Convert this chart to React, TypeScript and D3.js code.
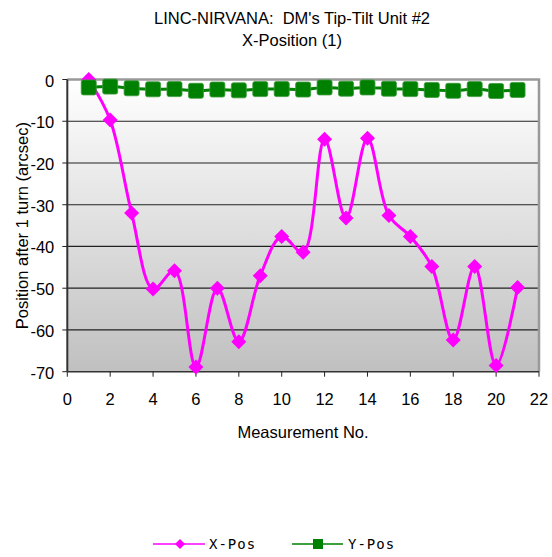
import React from "react";
import * as d3 from "d3";

const measurements = [1,2,3,4,5,6,7,8,9,10,11,12,13,14,15,16,17,18,19,20,21];
const xPos = [0,-9.7,-32,-50.2,-45.8,-68.9,-50,-62.8,-47,-37.6,-41.4,-14.3,-33.2,-14.1,-32.6,-37.6,-44.8,-62.4,-44.8,-68.5,-49.8];
const yPos = [-1.9,-1.7,-2.1,-2.35,-2.3,-2.7,-2.4,-2.6,-2.3,-2.3,-2.4,-1.9,-2.2,-1.9,-2.2,-2.3,-2.5,-2.7,-2.3,-2.75,-2.5];
const xTicks = [0,2,4,6,8,10,12,14,16,18,20,22];
const yTicks = [0,-10,-20,-30,-40,-50,-60,-70];
const titleLines = ["LINC-NIRVANA:  DM's Tip-Tilt Unit #2", "X-Position (1)"];
const xLabel = "Measurement No.";
const yLabel = "Position after 1 turn (arcsec)";
const seriesNames = ["X-Pos", "Y-Pos"];

const W = 552, H = 557;
const L = 67.3, R = 539, T = 79.5, B = 371.7;
const font = "'Liberation Sans', Arial, sans-serif";
const FS = 16.5;

export default function App() {
  const x = d3.scaleLinear().domain([0, 22]).range([L, R]);
  const y = d3.scaleLinear().domain([-70, 0]).range([B, T]);
  const curve = d3.curveCatmullRom.alpha(0.5);
  const lineX = d3.line<number>().x((_, i) => x(measurements[i])).y((d) => y(d)).curve(curve);
  const lineY = d3.line<number>().x((_, i) => x(measurements[i])).y((d) => y(d)).curve(curve);
  const diamond = (cx: number, cy: number, r: number) =>
    `M${cx},${cy - r}L${cx + r},${cy}L${cx},${cy + r}L${cx - r},${cy}Z`;

  return (
    <svg width={W} height={H} style={{ position: "absolute", left: 0, top: 0, fontFamily: font }}>
      <defs>
        <linearGradient id="bg" x1="0" y1="0" x2="0" y2="1">
          <stop offset="0" stopColor="#ffffff" />
          <stop offset="1" stopColor="#c0c0c0" />
        </linearGradient>
        <clipPath id="clip">
          <rect x={L} y={T - 10} width={R - L + 10} height={B - T + 20} />
        </clipPath>
      </defs>
      <rect width={W} height={H} fill="#fff" />
      {titleLines.map((t, i) => (
        <text key={i} x={292} y={23.5 + i * 22.5} textAnchor="middle" fontSize={FS} fill="#000" style={{ whiteSpace: "pre" }}>{t}</text>
      ))}
      <rect x={L} y={T} width={R - L} height={B - T} fill="url(#bg)" />
      {yTicks.filter((v) => v !== 0 && v !== -70).map((v) => (
        <line key={v} x1={L} x2={R} y1={y(v)} y2={y(v)} stroke="#222" strokeWidth={1.2} />
      ))}
      <path d={`M${L},${T}H${R}V${B}`} fill="none" stroke="#999" strokeWidth={2.5} />
      <line x1={L} x2={L} y1={T} y2={B} stroke="#333" strokeWidth={2} />
      <line x1={L} x2={R} y1={B} y2={B} stroke="#333" strokeWidth={1.5} />
      {yTicks.map((v) => (
        <g key={v}>
          <line x1={L - 5} x2={L} y1={y(v)} y2={y(v)} stroke="#222" strokeWidth={1} />
          <text x={L - 13} y={y(v) + 7} textAnchor="end" fontSize={FS} fill="#000">{v}</text>
        </g>
      ))}
      {xTicks.map((v) => (
        <g key={v}>
          <line x1={x(v)} x2={x(v)} y1={B} y2={B + 5} stroke="#222" strokeWidth={1} />
          <text x={x(v)} y={405} textAnchor="middle" fontSize={FS} fill="#000">{v}</text>
        </g>
      ))}
      <text x={303} y={437.5} textAnchor="middle" fontSize={FS} fill="#000">{xLabel}</text>
      <text transform={`translate(28,${(T + B) / 2}) rotate(-90)`} textAnchor="middle" fontSize={FS} fill="#000">{yLabel}</text>

      <g clipPath="url(#clip)">
        <path d={lineX(xPos) || ""} fill="none" stroke="#ff00ff" strokeWidth={3} />
        {xPos.map((v, i) => (
          <path key={i} d={diamond(x(measurements[i]), y(v), 7.5)} fill="#ff00ff" />
        ))}
        <path d={lineY(yPos) || ""} fill="none" stroke="#008000" strokeWidth={3} />
        {yPos.map((v, i) => (
          <rect key={i} x={x(measurements[i]) - 7.5} y={y(v) - 7.5} width={15} height={15} rx={2} fill="#008000" stroke="#3a9a3a" strokeWidth={0.8} />
        ))}
      </g>

      <g>
        <line x1={153} x2={205} y1={544} y2={544} stroke="#ff00ff" strokeWidth={1.5} />
        <path d={diamond(180, 544, 5)} fill="#ff00ff" />
        <text x={209} y={549} fontSize={14} letterSpacing={1} fill="#000" fontFamily="'DejaVu Sans Mono', monospace">{seriesNames[0]}</text>
        <line x1={292} x2={343} y1={544} y2={544} stroke="#008000" strokeWidth={1.5} />
        <rect x={313} y={539} width={10} height={10} fill="#008000" />
        <text x={348} y={549} fontSize={14} letterSpacing={1} fill="#000" fontFamily="'DejaVu Sans Mono', monospace">{seriesNames[1]}</text>
      </g>
    </svg>
  );
}
